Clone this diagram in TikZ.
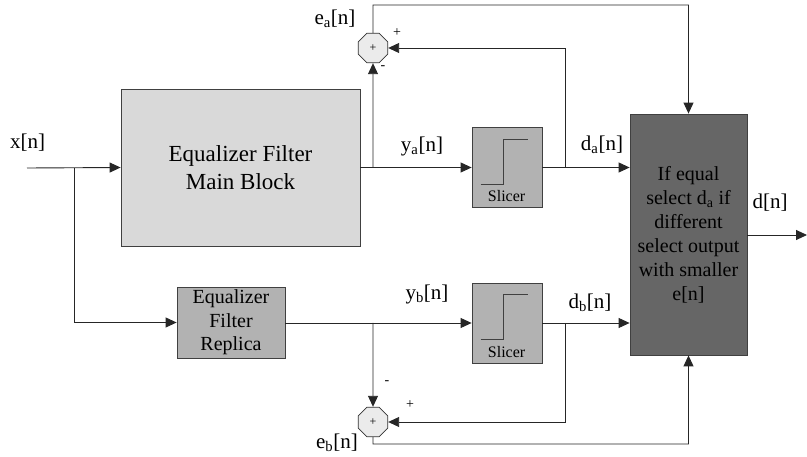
\documentclass[tikz,border=0pt]{standalone}
\usepackage{fontspec}
\setmainfont{Liberation Serif}
\usetikzlibrary{arrows.meta,shapes.geometric,calc}
\begin{document}
\begin{tikzpicture}[x=1pt,y=-1pt,
  wire/.style={draw=black!85, line width=0.9pt},
  arr/.style={wire, -{Triangle[length=11pt,width=10pt]}},
  blockbox/.style={draw=black!75, line width=0.8pt, inner sep=0pt, align=center},
  slicerbox/.style={blockbox, fill=black!30, minimum width=70pt, minimum height=80pt},
  sumnode/.style={regular polygon, regular polygon sides=8, draw=black!80, line width=0.8pt, fill=black!8, minimum size=32pt, inner sep=0pt, font=\fontsize{12}{12}\selectfont},
  lbl/.style={inner sep=0pt, font=\fontsize{21}{24}\selectfont},
  sgn/.style={inner sep=0pt, font=\fontsize{14}{14}\selectfont}
]
\useasboundingbox (0,0) rectangle (807,457);

% blocks
\node[blockbox, fill=black!15, minimum width=239pt, minimum height=157pt,
      font=\fontsize{23}{28}\selectfont] (main) at (240.5,167.5) {Equalizer Filter\\Main Block};
\node[blockbox, fill=black!30, minimum width=108pt, minimum height=71pt,
      font=\fontsize{20}{23.5}\selectfont] (rep) at (231,322.5) {Equalizer\\Filter\\Replica};
\node[slicerbox] (sa) at (507,167.5) {};
\node[slicerbox] (sb) at (507,323) {};
\node[blockbox, fill=black!60, minimum width=117pt, minimum height=241pt,
      font=\fontsize{20}{24}\selectfont] (dec) at (688.5,234.5)
      {If equal\\select d\textsubscript{a} if\\different\\select output\\with smaller\\e[n]};
\node[sumnode] (suma) at (373,48) {+};
\node[sumnode] (sumb) at (373,422) {+};

% slicer contents
\foreach \s in {sa,sb}{
  \draw[draw=black!75, line width=0.9pt] ($(\s.north west)+(9,57)$) -- ($(\s.north west)+(32,57)$)
     -- ($(\s.north west)+(32,12)$) -- ($(\s.north west)+(56,12)$);
  \node[inner sep=0pt, font=\fontsize{16}{16}\selectfont] at ($(\s.north west)+(35,69)$) {Slicer};
}

% coordinates
\coordinate (xin) at (27,168);
\coordinate (br) at (74,168);
\coordinate (ja) at (373,167.5);
\coordinate (jda) at (565,167.5);
\coordinate (jb) at (373,323);
\coordinate (jdb) at (565,323);
\coordinate (ta) at (373,5);
\coordinate (bb) at (373,444);
\coordinate (dout) at (807,235);

% connectors
\draw[arr] (xin) -- (main.west);
\draw[arr] (br) |- (rep.west);
\draw[arr] (main.east) -- (sa.west);
\draw[arr] (sa.east) -- (dec.west |- sa.east);
\draw[arr] (ja) -- (suma.south);
\draw[arr] (jda) |- (suma.east);
\draw[arr] (suma.north) -- (ta) -| (dec.north);
\draw[arr] (rep.east |- sb.west) -- (sb.west);
\draw[arr] (sb.east) -- (dec.west |- sb.east);
\draw[arr] (jb) -- (sumb.north);
\draw[arr] (jdb) |- (sumb.east);
\draw[arr] (sumb.south) -- (bb) -| (dec.south);
\draw[arr] (dec.east |- dout) -- (dout);

% labels
\node[lbl] at (27.5,143) {x[n]};
\node[lbl] at (335,19) {e\textsubscript{a}[n]};
\node[lbl] at (337,443) {e\textsubscript{b}[n]};
\node[lbl] at (422,146) {y\textsubscript{a}[n]};
\node[lbl] at (602,145) {d\textsubscript{a}[n]};
\node[lbl] at (427,294) {y\textsubscript{b}[n]};
\node[lbl] at (590,303) {d\textsubscript{b}[n]};
\node[lbl] at (770,203) {d[n]};
\node[sgn] at (397,33) {+};
\node[sgn] at (383,68) {-};
\node[sgn] at (387,383) {-};
\node[sgn] at (410,405) {+};
\end{tikzpicture}
\end{document}
